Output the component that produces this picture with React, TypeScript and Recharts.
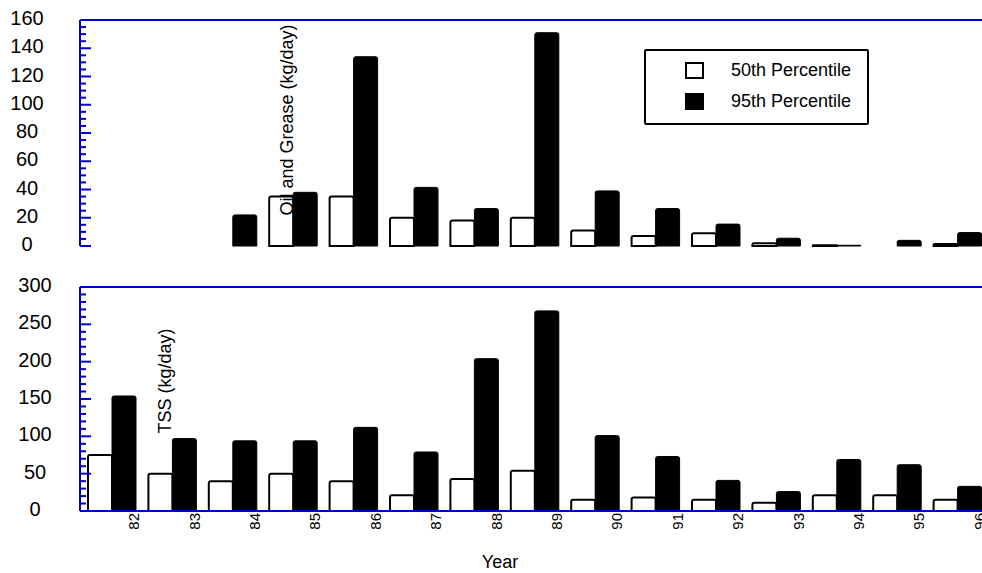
import React from "react";
import { BarChart, Bar, XAxis, YAxis, ReferenceLine, Legend } from "recharts";

const years = ["82", "83", "84", "85", "86", "87", "88", "89", "90", "91", "92", "93", "94", "95", "96"];

// Oil and grease loads, kg/day
const oilP50 = [0, 0, 0, 35, 35, 20, 18, 20, 11, 7, 9, 2, 0.5, 0, 1.5];
const oilP95 = [0, 0, 22, 38, 134, 41.5, 26.5, 151, 39, 26.5, 15.5, 5.5, 0.5, 4, 9.5];

// Total suspended solids, kg/day
const tssP50 = [75, 50, 40, 50, 40, 21, 43, 54, 15, 18, 15, 11, 21, 21, 15];
const tssP95 = [154, 97, 94, 94, 112, 79, 204, 268, 101, 73, 41, 26, 69, 62, 33];

const oilTicks = [0, 20, 40, 60, 80, 100, 120, 140, 160];
const tssTicks = [0, 50, 100, 150, 200, 250, 300];

const FONT = "'Liberation Sans', Arial, Helvetica, sans-serif";
const BLUE = "#0000cc";
const AXIS_X = 80;

const oilData = years.map((year, i) => ({ year, p50: oilP50[i], p95: oilP95[i] }));
const tssData = years.map((year, i) => ({ year, p50: tssP50[i], p95: tssP95[i] }));

// minor ticks between the labelled ones
const withMinor = (major: number[], parts: number) => {
  const out: number[] = [];
  for (let i = 0; i < major.length - 1; i++) {
    const step = (major[i + 1] - major[i]) / parts;
    for (let k = 0; k < parts; k++) out.push(major[i] + k * step);
  }
  out.push(major[major.length - 1]);
  return out;
};

const makeYTick = (major: number[], labelX: number) => (props: any) => {
  const { y, payload } = props;
  const isMajor = major.includes(payload.value);
  return (
    <g>
      <line x1={AXIS_X} x2={AXIS_X + (isMajor ? 11 : 6)} y1={y} y2={y} stroke={BLUE} strokeWidth={2} />
      {isMajor && (
        <text x={labelX} y={y - 2} textAnchor="middle" dominantBaseline="central" fontSize={20} fontFamily={FONT} fill="#000">
          {payload.value}
        </text>
      )}
    </g>
  );
};

const YearTick = (props: any) => {
  const { x, y, payload } = props;
  const tx = x + 21.5;
  const ty = y + 2;
  return (
    <text x={tx} y={ty} transform={`rotate(-90 ${tx} ${ty})`} textAnchor="end" dominantBaseline="central" fontSize={15} fontFamily={FONT} fill="#000">
      {payload.value}
    </text>
  );
};

const renderLegend = (props: any) => {
  const { payload } = props;
  return (
    <div
      style={{
        boxSizing: "border-box",
        width: 225,
        height: 76,
        border: "2px solid #000",
        borderRadius: 2,
        background: "#fff",
        paddingTop: 4,
        fontFamily: FONT,
        fontSize: 18,
      }}
    >
      {(payload || []).map((entry: any, i: number) => (
        <div key={entry.value} style={{ display: "flex", alignItems: "center", height: 31 }}>
          <span
            style={{
              boxSizing: "border-box",
              display: "inline-block",
              marginLeft: 39,
              width: 19,
              height: 17,
              border: "2px solid #000",
              background: i === 0 ? "#fff" : "#000",
            }}
          />
          <span style={{ marginLeft: 27, color: "#000" }}>{entry.value}</span>
        </div>
      ))}
    </div>
  );
};

// vertical axis titles sit on top of the bars
const AxisTitle = ({ x, y, text }: { x: number; y: number; text: string }) => (
  <text x={x} y={y} transform={`rotate(-90 ${x} ${y})`} textAnchor="middle" dominantBaseline="central" fontSize={18} fontFamily={FONT} fill="#000">
    {text}
  </text>
);

export default function App() {
  return (
    <div style={{ position: "absolute", left: 0, top: 0, width: 982, height: 573, overflow: "hidden", background: "#fff" }}>
      <div style={{ position: "absolute", left: 0, top: 0 }}>
        <BarChart width={988} height={260} data={oilData} margin={{ top: 20, right: 0, bottom: 14, left: 0 }} barSize={24} barGap={0}>
          <XAxis dataKey="year" height={0} tick={false} tickLine={false} padding={{ left: 2, right: 0 }} axisLine={{ stroke: BLUE, strokeWidth: 2 }} />
          <YAxis
            width={80}
            domain={[0, 160]}
            ticks={withMinor(oilTicks, 4)}
            interval={0}
            tickLine={false}
            axisLine={{ stroke: BLUE, strokeWidth: 2 }}
            tick={makeYTick(oilTicks, 27)}
          />
          <ReferenceLine y={160} stroke={BLUE} strokeWidth={2} />
          <Bar dataKey="p50" name="50th Percentile" fill="#fff" stroke="#000" strokeWidth={2} radius={[2, 2, 0, 0]} isAnimationActive={false} />
          <Bar dataKey="p95" name="95th Percentile" fill="#000" stroke="#000" strokeWidth={1} radius={[2, 2, 0, 0]} isAnimationActive={false} />
          <Legend
            layout="vertical"
            align="center"
            verticalAlign="middle"
            wrapperStyle={{ left: 644, top: 49, width: 225, height: 76 }}
            content={renderLegend}
          />
        </BarChart>
      </div>
      <div style={{ position: "absolute", left: 0, top: 260 }}>
        <BarChart width={988} height={313} data={tssData} margin={{ top: 27, right: 0, bottom: 0, left: 0 }} barSize={24} barGap={0}>
          <XAxis
            dataKey="year"
            height={62}
            interval={0}
            tickSize={0}
            tickMargin={0}
            tickLine={false}
            padding={{ left: 2, right: 0 }}
            axisLine={{ stroke: BLUE, strokeWidth: 2 }}
            tick={<YearTick />}
            label={{ value: "Year", position: "insideBottom", offset: 5, dx: -34, fontSize: 18, fontFamily: FONT, fill: "#000" }}
          />
          <YAxis
            width={80}
            domain={[0, 300]}
            ticks={withMinor(tssTicks, 5)}
            interval={0}
            tickLine={false}
            axisLine={{ stroke: BLUE, strokeWidth: 2 }}
            tick={makeYTick(tssTicks, 35)}
          />
          <ReferenceLine y={300} stroke={BLUE} strokeWidth={2} />
          <Bar dataKey="p50" name="50th Percentile" fill="#fff" stroke="#000" strokeWidth={2} radius={[2, 2, 0, 0]} isAnimationActive={false} />
          <Bar dataKey="p95" name="95th Percentile" fill="#000" stroke="#000" strokeWidth={1} radius={[2, 2, 0, 0]} isAnimationActive={false} />
        </BarChart>
      </div>
      <svg width={982} height={573} style={{ position: "absolute", left: 0, top: 0, pointerEvents: "none" }}>
        <AxisTitle x={287} y={120} text="Oil and Grease (kg/day)" />
        <AxisTitle x={165} y={381} text="TSS (kg/day)" />
      </svg>
    </div>
  );
}
